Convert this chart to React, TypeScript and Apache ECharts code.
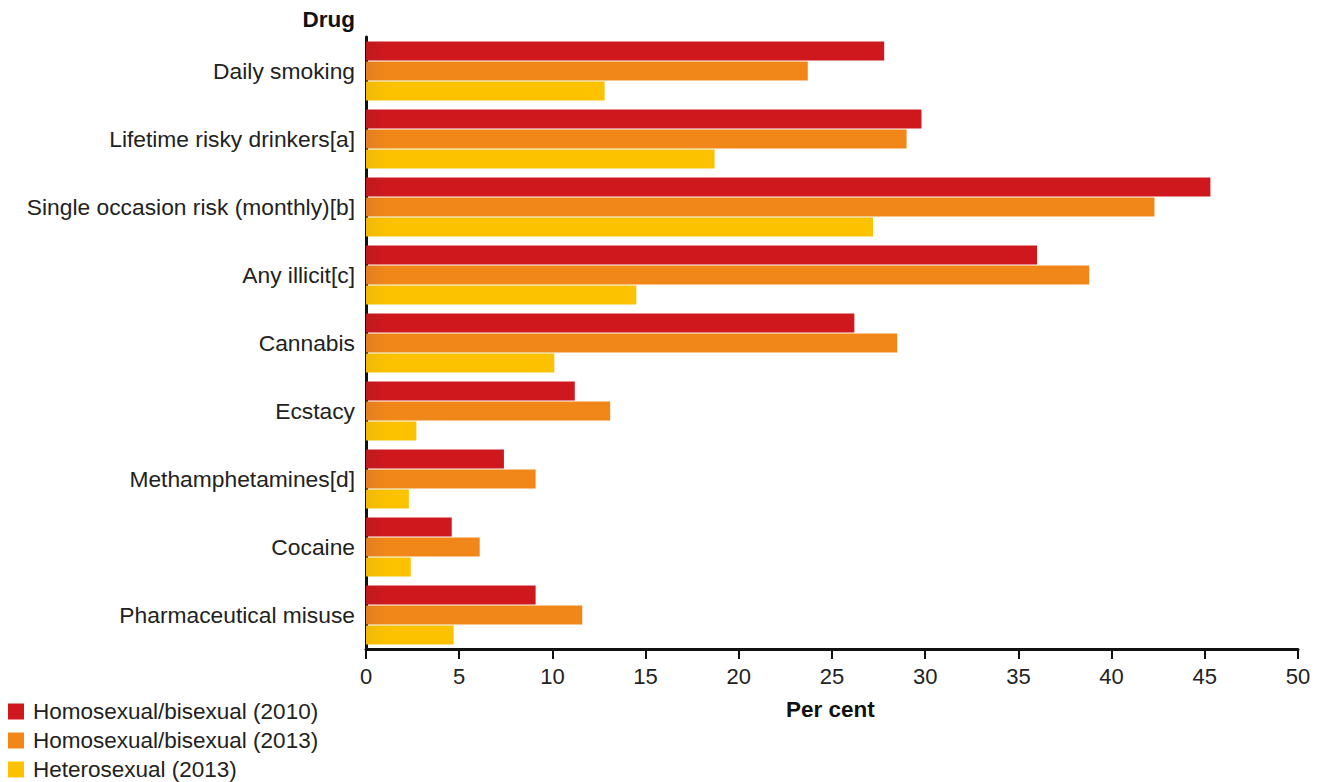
import React, { useEffect, useRef } from "react";
import * as echarts from "echarts";

const categories = [
  "Daily smoking",
  "Lifetime risky drinkers[a]",
  "Single occasion risk (monthly)[b]",
  "Any illicit[c]",
  "Cannabis",
  "Ecstacy",
  "Methamphetamines[d]",
  "Cocaine",
  "Pharmaceutical misuse",
];
const homo2010 = [27.8, 29.8, 45.3, 36.0, 26.2, 11.2, 7.4, 4.6, 9.1];
const homo2013 = [23.7, 29.0, 42.3, 38.8, 28.5, 13.1, 9.1, 6.1, 11.6];
const hetero2013 = [12.8, 18.7, 27.2, 14.5, 10.1, 2.7, 2.3, 2.4, 4.7];
const seriesNames = [
  "Homosexual/bisexual (2010)",
  "Homosexual/bisexual (2013)",
  "Heterosexual (2013)",
];
const colors = ["#CE181E", "#F08718", "#FCC200"];
const edgeColors = ["#C01A1E", "#E27F22", "#F0B90A"];

const FONT = "'Liberation Sans', Arial, sans-serif";

export default function App() {
  const ref = useRef<HTMLDivElement>(null);
  useEffect(() => {
    const chart = echarts.init(ref.current!, null, { renderer: "svg" });
    const data = [homo2010, homo2013, hetero2013];
    chart.setOption({
      animation: false,
      textStyle: { fontFamily: FONT },
      grid: { left: 366, right: 25, top: 37, bottom: 133, containLabel: false },
      legend: {
        orient: "vertical",
        left: 8,
        top: 700,
        height: 100,
        padding: 0,
        itemWidth: 16,
        itemHeight: 16,
        itemGap: 6,
        icon: "rect",
        textStyle: { fontSize: 22.5, color: "#222", fontFamily: FONT, padding: [0, 0, 0, 4] },
        data: seriesNames.map((n, i) => ({ name: n, itemStyle: { color: colors[i] } })),
      },
      xAxis: {
        type: "value",
        min: 0,
        max: 50,
        interval: 5,
        axisLine: { show: true, lineStyle: { color: "#111", width: 3 } },
        axisTick: { show: true, length: 10, lineStyle: { color: "#111", width: 2 } },
        axisLabel: { fontSize: 22, color: "#222", margin: 16, fontFamily: FONT },
        splitLine: { show: false },
      },
      yAxis: {
        type: "category",
        inverse: true,
        data: categories,
        axisLine: { show: true, lineStyle: { color: "#111", width: 3 } },
        axisTick: { show: false },
        axisLabel: { fontSize: 22.8, color: "#222", margin: 11, fontFamily: FONT },
      },
      graphic: [
        {
          type: "text",
          right: 1323 - 355,
          top: 8,
          style: { text: "Drug", fontSize: 22.5, fontWeight: "bold", fill: "#111", fontFamily: FONT },
        },
        {
          type: "text",
          left: 786,
          top: 698,
          style: { text: "Per cent", fontSize: 22.5, fontWeight: "bold", fill: "#111", fontFamily: FONT },
        },
      ],
      series: seriesNames.map((name, i) => ({
        name,
        type: "bar",
        data: data[i],
        barGap: "5%",
        barCategoryGap: "13%",
        itemStyle: {
          color: new echarts.graphic.LinearGradient(
            366,
            0,
            386,
            0,
            [
              { offset: 0, color: edgeColors[i] },
              { offset: 1, color: colors[i] },
            ],
            true
          ),
        },
      })),
    });
    return () => chart.dispose();
  }, []);
  return (
    <div
      ref={ref}
      style={{ position: "fixed", left: 0, top: 0, width: 1323, height: 782, background: "#fff" }}
    />
  );
}
